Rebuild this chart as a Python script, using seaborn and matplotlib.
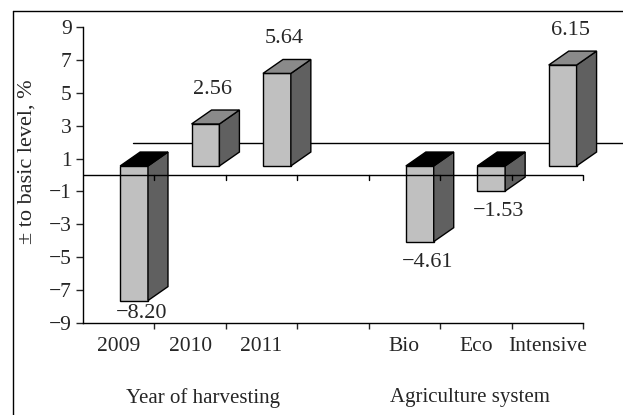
import numpy as np
import matplotlib
matplotlib.use("Agg")
import matplotlib.pyplot as plt
from matplotlib.patches import Polygon
from matplotlib.lines import Line2D
import seaborn as sns

# data
categories = ["2009", "2010", "2011", "", "Bio", "Eco", "Intensive"]
values = [-8.20, 2.56, 5.64, np.nan, -4.61, -1.53, 6.15]
group_names = ["Year of harvesting", "Agriculture system"]
y_ticks = [-9, -7, -5, -3, -1, 1, 3, 5, 7, 9]

sns.set_theme(style="white")
plt.rcParams["font.family"] = ["Liberation Serif", "DejaVu Serif"]

FS = 15.5

FRONT = "#c0c0c0"
SIDE = "#606060"
TOP_POS = "#8a8a8a"
TOP_NEG = "#000000"

base = 0.55      # 3D floor offset
x_off = 0.02     # front face starts a bit right of the category centre
bw = 0.39        # front face width
dx, dy = 0.28, 0.85  # depth

fig = plt.figure(figsize=(6.23, 4.15), dpi=100)
ax = fig.add_axes([0.1332, 0.2224, 0.8026, 0.7118])

x = np.arange(len(categories))

# back wall line (behind the bars)
ax.plot([0.2, 7.06], [1.93, 1.93], color="black", lw=1, clip_on=False, zorder=1)

for xi, v in zip(x, values):
    if np.isnan(v):
        continue
    x0 = xi + x_off
    x1 = x0 + bw
    lo, hi = min(base, base + v), max(base, base + v)
    ax.bar(x0, v, width=bw, bottom=base, align="edge", color=FRONT,
           edgecolor="black", linewidth=1, zorder=3, clip_on=False)
    side = Polygon([(x1, lo), (x1 + dx, lo + dy), (x1 + dx, hi + dy), (x1, hi)],
                   closed=True, facecolor=SIDE, edgecolor="black", lw=1,
                   zorder=3, clip_on=False)
    ax.add_patch(side)
    top = Polygon([(x0, hi), (x0 + dx, hi + dy), (x1 + dx, hi + dy), (x1, hi)],
                  closed=True, facecolor=TOP_POS if v > 0 else TOP_NEG,
                  edgecolor="black", lw=1, zorder=3, clip_on=False)
    ax.add_patch(top)

    txt = f"{v:.2f}".replace("-", "\u2212")
    if v > 0:
        ty = base + v + dy + 1.25
    else:
        ty = max(base + v - 1.25, -8.45)
    ax.text(xi + 0.32, ty, txt, ha="center", va="center", fontsize=16, zorder=5)

# zero line drawn over the bars, with its own ticks
ax.axhline(0, color="black", lw=1, zorder=4)
bounds = np.arange(len(categories) + 1) - 0.5
for b in bounds[1:]:
    ax.plot([b, b], [0, -0.32], color="black", lw=1, zorder=4, clip_on=False)

ax.set_xlim(-0.5, len(categories) - 0.5)
ax.set_ylim(-9, 9)

ax.set_yticks(y_ticks)
ax.set_yticklabels([str(t).replace("-", "\u2212") for t in y_ticks])
ax.tick_params(axis="y", direction="out", length=5, width=1, pad=3,
               labelsize=FS, left=True)

ax.set_xticks(bounds[1:])
ax.set_xticklabels([])
ax.set_xticks(x, minor=True)
ax.set_xticklabels(categories, minor=True)
ax.tick_params(axis="x", which="major", direction="out", length=4, width=1,
               bottom=True)
ax.tick_params(axis="x", which="minor", length=0, pad=10, labelsize=FS)

for s in ["top", "right"]:
    ax.spines[s].set_visible(False)
for s in ["left", "bottom"]:
    ax.spines[s].set_color("black")
    ax.spines[s].set_linewidth(1)

ax.set_ylabel("")
fig.text(27 / 623, 0.611, "\u00b1 to basic level, %", rotation=90,
         ha="center", va="center", fontsize=16)

ax.annotate(group_names[0], xy=(1.18, 0.041), xycoords=("data", "figure fraction"),
            ha="center", va="center", fontsize=15)
ax.annotate(group_names[1], xy=(4.92, 0.041), xycoords=("data", "figure fraction"),
            ha="center", va="center", fontsize=15)

# outer frame (top and left edges visible)
fig.add_artist(Line2D([12.5 / 623, 1.0], [1 - 11 / 415, 1 - 11 / 415],
                      color="black", lw=1, transform=fig.transFigure))
fig.add_artist(Line2D([12.5 / 623, 12.5 / 623], [0, 1 - 11 / 415],
                      color="black", lw=1, transform=fig.transFigure))

fig.savefig("out.png", dpi=100)
